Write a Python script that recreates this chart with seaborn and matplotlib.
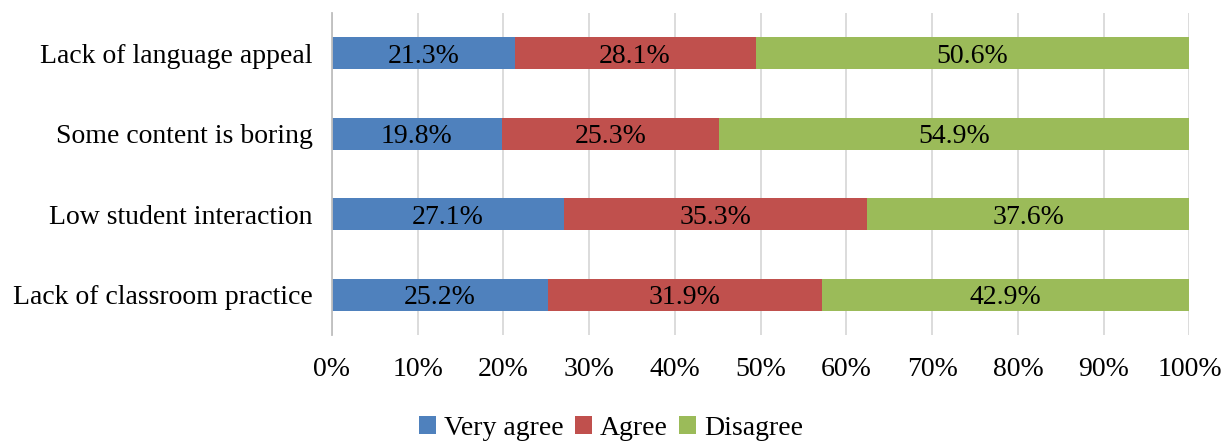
import matplotlib
matplotlib.use("Agg")
import matplotlib.pyplot as plt
from matplotlib.patches import Patch
import numpy as np
import pandas as pd
import seaborn as sns

categories = ["Lack of language appeal", "Some content is boring",
              "Low student interaction", "Lack of classroom practice"]
very_agree = [21.3, 19.8, 27.1, 25.2]
agree = [28.1, 25.3, 35.3, 31.9]
disagree = [50.6, 54.9, 37.6, 42.9]
series_names = ["Very agree", "Agree", "Disagree"]
colors = ["#4F81BD", "#C0504D", "#9BBB59"]
x_ticks = list(range(0, 101, 10))

sns.set_theme(style="white")
plt.rcParams["font.family"] = ["Liberation Serif", "DejaVu Serif"]
plt.rcParams["text.color"] = "black"
plt.rcParams["xtick.color"] = "black"
plt.rcParams["ytick.color"] = "black"

FS = 20

fig = plt.figure(figsize=(12.25, 4.46), dpi=100)
ax = fig.add_axes([0.271, 0.249, 0.700, 0.722])

series = [very_agree, agree, disagree]
cum = np.cumsum(np.array(series), axis=0)

# Stacked bars: draw cumulative totals from the outermost layer inwards
for i in range(len(series) - 1, -1, -1):
    df = pd.DataFrame({"category": categories, "value": cum[i]})
    sns.barplot(data=df, x="value", y="category", color=colors[i],
                saturation=1, width=0.4, orient="h", ax=ax, zorder=2,
                linewidth=0)

# Segment value labels
for i, vals in enumerate(series):
    starts = cum[i] - np.array(vals)
    for j, v in enumerate(vals):
        ax.text(starts[j] + v / 2, j, f"{v:.1f}%", ha="center",
                va="center_baseline", fontsize=FS, color="black", zorder=3)

ax.set_xlim(0, 100)
ax.set_ylim(3.5, -0.5)
ax.set_xticks(x_ticks)
ax.set_xticklabels([f"{t}%" for t in x_ticks], fontsize=FS)
ax.tick_params(axis="y", labelsize=FS, length=0, pad=14)
ax.tick_params(axis="x", length=0, pad=16)
ax.set_xlabel("")
ax.set_ylabel("")
ax.grid(axis="x", color="#D9D9D9", linewidth=1.3, zorder=0)
ax.set_axisbelow(True)
for s in ["top", "right", "bottom"]:
    ax.spines[s].set_visible(False)
ax.spines["left"].set_color("#BFBFBF")
ax.spines["left"].set_linewidth(1.3)

handles = [Patch(facecolor=c, edgecolor="none") for c in colors]
fig.legend(handles, series_names, loc="lower center", ncol=3,
           bbox_to_anchor=(0.499, -0.045), frameon=False, fontsize=FS,
           handlelength=0.6, handleheight=0.6, handletextpad=0.3,
           columnspacing=0.4)

fig.savefig("out.png", dpi=100)
